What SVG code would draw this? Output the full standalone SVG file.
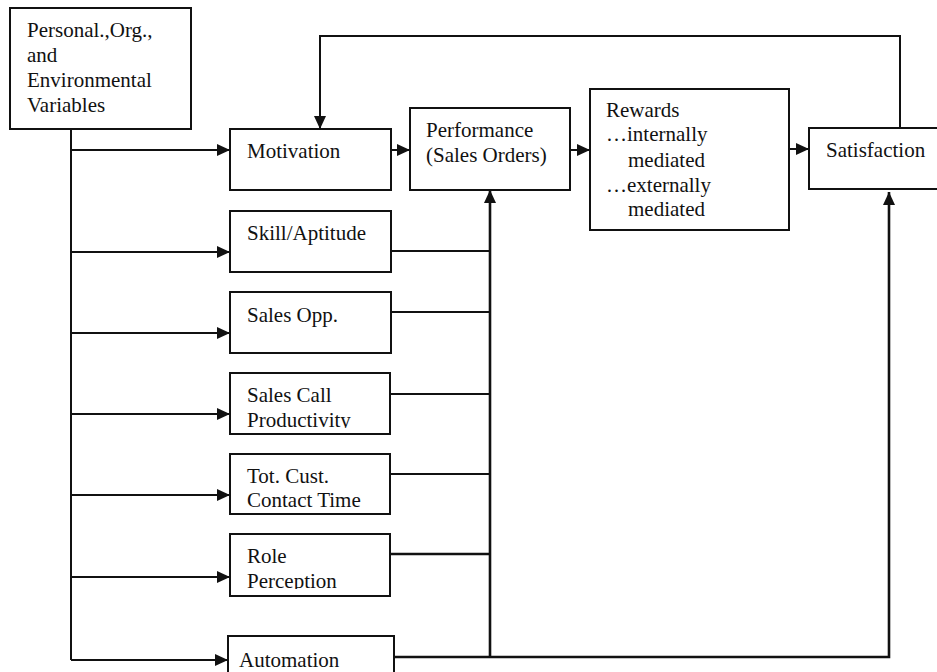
<svg xmlns="http://www.w3.org/2000/svg" width="937" height="672" viewBox="0 0 937 672">
<style>
.box{fill:#fff;stroke:#111;stroke-width:2}
.t{font-family:'Liberation Serif','Times New Roman',Times,'DejaVu Serif',serif;font-size:21px;fill:#111}
.ln{fill:none;stroke:#111;stroke-width:2}
.thick{stroke-width:2.6}
</style>
<defs>
<marker id="ah" markerWidth="13" markerHeight="12" refX="13" refY="6" orient="auto" markerUnits="userSpaceOnUse">
<path d="M0,0 L13,6 L0,12 z" fill="#111"/>
</marker>
<clipPath id="cSC"><rect x="231" y="374" width="158" height="54"/></clipPath>
<clipPath id="cTC"><rect x="231" y="455" width="158" height="53"/></clipPath>
<clipPath id="cRP"><rect x="231" y="535" width="158" height="54"/></clipPath>
</defs>
<rect width="937" height="672" fill="#fff"/>
<g id="connectors">
<path class="ln" d="M71,129 V660"/>
<path class="ln" d="M71,150 H230" marker-end="url(#ah)"/>
<path class="ln" d="M71,252 H230" marker-end="url(#ah)"/>
<path class="ln" d="M71,333 H230" marker-end="url(#ah)"/>
<path class="ln" d="M71,414 H230" marker-end="url(#ah)"/>
<path class="ln" d="M71,495 H230" marker-end="url(#ah)"/>
<path class="ln" d="M71,577 H230" marker-end="url(#ah)"/>
<path class="ln" d="M71,660 H228" marker-end="url(#ah)"/>
<path class="ln" d="M391,150 H410" marker-end="url(#ah)"/>
<path class="ln" d="M570,150 H590" marker-end="url(#ah)"/>
<path class="ln" d="M789,149 H809" marker-end="url(#ah)"/>
<path class="ln" d="M900,128 V36 H320 V129" marker-end="url(#ah)"/>
<path class="ln" d="M391,251 H490"/>
<path class="ln" d="M391,312 H490"/>
<path class="ln" d="M390,394 H490"/>
<path class="ln" d="M390,474 H490"/>
<path class="ln thick" d="M390,554 H490"/>
<path class="ln thick" d="M490,657 V190" marker-end="url(#ah)"/>
<path class="ln thick" d="M394,657 H889 V192" marker-end="url(#ah)"/>
</g>
<g id="node-personal">
<rect class="box" x="10" y="8" width="181" height="121"/>
<text class="t" x="27" y="37">Personal.,Org.,</text>
<text class="t" x="27" y="62">and</text>
<text class="t" x="27" y="87">Environmental</text>
<text class="t" x="27" y="112">Variables</text>
</g>
<g id="node-motivation">
<rect class="box" x="230" y="129" width="161" height="61"/>
<text class="t" x="247" y="158">Motivation</text>
</g>
<g id="node-performance">
<rect class="box" x="410" y="108" width="160" height="82"/>
<text class="t" x="426" y="137">Performance</text>
<text class="t" x="426" y="162">(Sales Orders)</text>
</g>
<g id="node-rewards">
<rect class="box" x="590" y="89" width="199" height="141"/>
<text class="t" x="606" y="117">Rewards</text>
<text class="t" x="606" y="141">…internally</text>
<text class="t" x="628" y="167">mediated</text>
<text class="t" x="606" y="192">…externally</text>
<text class="t" x="628" y="216">mediated</text>
</g>
<g id="node-satisfaction">
<rect class="box" x="809" y="128" width="140" height="61"/>
<text class="t" x="826" y="157">Satisfaction</text>
</g>
<g id="node-skill">
<rect class="box" x="230" y="211" width="161" height="61"/>
<text class="t" x="247" y="240">Skill/Aptitude</text>
</g>
<g id="node-salesopp">
<rect class="box" x="230" y="292" width="161" height="61"/>
<text class="t" x="247" y="322">Sales Opp.</text>
</g>
<g id="node-salescall">
<rect class="box" x="230" y="373" width="160" height="61"/>
<g clip-path="url(#cSC)">
<text class="t" x="247" y="402">Sales Call</text>
<text class="t" x="247" y="427">Productivity</text>
</g>
</g>
<g id="node-totcust">
<rect class="box" x="230" y="454" width="160" height="60"/>
<g clip-path="url(#cTC)">
<text class="t" x="247" y="483">Tot. Cust.</text>
<text class="t" x="247" y="507">Contact Time</text>
</g>
</g>
<g id="node-role">
<rect class="box" x="230" y="534" width="160" height="62"/>
<g clip-path="url(#cRP)">
<text class="t" x="247" y="563">Role</text>
<text class="t" x="247" y="588">Perception</text>
</g>
</g>
<g id="node-automation">
<rect class="box" x="228" y="636" width="166" height="50"/>
<text class="t" x="239" y="667">Automation</text>
</g>
</svg>
